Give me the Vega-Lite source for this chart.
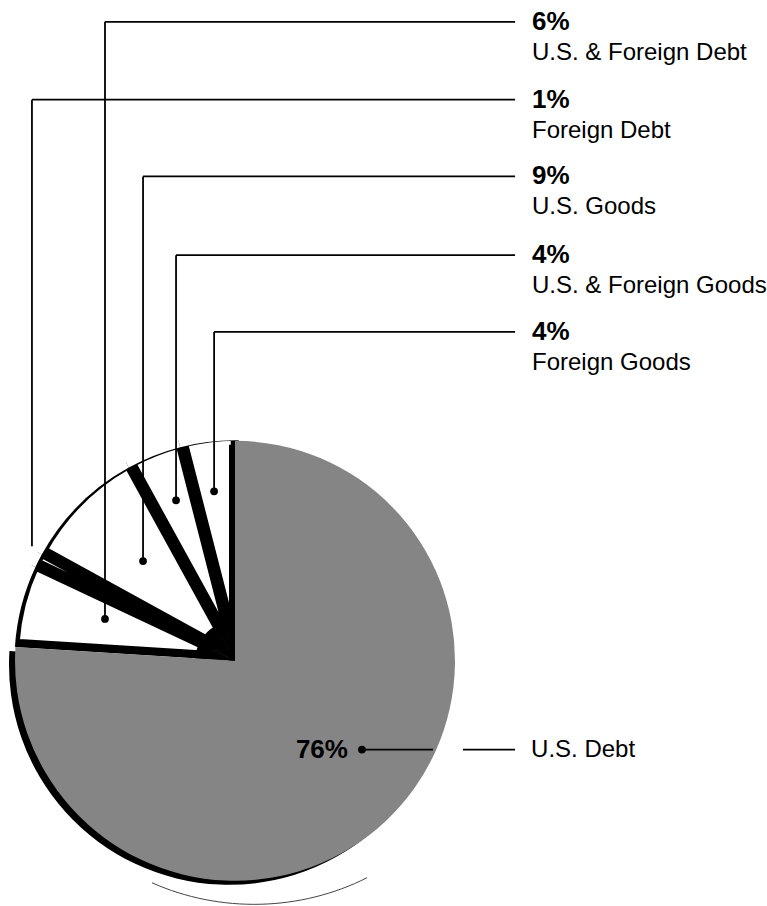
{
  "$schema": "https://vega.github.io/schema/vega-lite/v6.json",
  "width": 767,
  "height": 906,
  "autosize": {"type": "fit", "contains": "padding"},
  "padding": 0,
  "background": "white",
  "config": {"view": {"stroke": null}, "text": {"font": "Liberation Sans"}},
  "datasets": {
    "slices": [
      {"category": "U.S. Debt", "pct": 76, "ord": 1},
      {"category": "U.S. & Foreign Debt", "pct": 6, "ord": 2},
      {"category": "Foreign Debt", "pct": 1, "ord": 3},
      {"category": "U.S. Goods", "pct": 9, "ord": 4},
      {"category": "U.S. & Foreign Goods", "pct": 4, "ord": 5},
      {"category": "Foreign Goods", "pct": 4, "ord": 6}
    ],
    "callouts": [
      {"label": "6%", "name": "U.S. & Foreign Debt", "lead_x": -59.1, "level_y": 291.4, "dot_y": 19.1, "dot": true},
      {"label": "1%", "name": "Foreign Debt", "lead_x": -92.3, "level_y": 255.9, "dot_y": 52.3, "dot": false},
      {"label": "9%", "name": "U.S. Goods", "lead_x": -41.8, "level_y": 220.9, "dot_y": 45.5, "dot": true},
      {"label": "4%", "name": "U.S. & Foreign Goods", "lead_x": -26.8, "level_y": 185.0, "dot_y": 73.2, "dot": true},
      {"label": "4%", "name": "Foreign Goods", "lead_x": -9.5, "level_y": 150.0, "dot_y": 77.3, "dot": true}
    ],
    "usdebt": [
      {"label": "76%", "name": "U.S. Debt", "dot_x": 57.7, "gap_from": 90.0, "gap_to": 103.6, "line_end": 127.3, "level_y": -40.5}
    ]
  },
  "layer": [
    {
      "data": {"name": "slices"},
      "mark": {"type": "arc", "outerRadius": 220},
      "encoding": {
        "x": {"datum": 0, "type": "quantitative", "scale": {"domain": [-106.82, 241.82], "nice": false, "zero": false}, "axis": null},
        "y": {"datum": 0, "type": "quantitative", "scale": {"domain": [-110.45, 301.36], "nice": false, "zero": false}, "axis": null},
        "theta": {"field": "pct", "type": "quantitative", "stack": true},
        "order": {"field": "ord", "type": "quantitative"},
        "fill": {"condition": {"test": "datum.category === 'U.S. Debt'", "value": "transparent"}, "value": "black"}
      }
    },
    {
      "data": {"name": "slices"},
      "mark": {"type": "arc", "outerRadius": 222, "innerRadius": 30, "padAngle": 0.02, "xOffset": 2, "yOffset": -2, "strokeWidth": 8, "strokeJoin": "round"},
      "encoding": {
        "x": {"datum": 0, "type": "quantitative", "scale": {"domain": [-106.82, 241.82], "nice": false, "zero": false}, "axis": null},
        "y": {"datum": 0, "type": "quantitative", "scale": {"domain": [-110.45, 301.36], "nice": false, "zero": false}, "axis": null},
        "theta": {"field": "pct", "type": "quantitative", "stack": true},
        "order": {"field": "ord", "type": "quantitative"},
        "fill": {"condition": {"test": "datum.category === 'U.S. Debt'", "value": "transparent"}, "value": "white"},
        "stroke": {"condition": {"test": "datum.category === 'U.S. Debt'", "value": "transparent"}, "value": "black"}
      }
    },
    {
      "data": {"name": "slices"},
      "mark": {"type": "arc", "innerRadius": 220.5, "outerRadius": 231},
      "encoding": {
        "x": {"datum": 0, "type": "quantitative", "scale": {"domain": [-106.82, 241.82], "nice": false, "zero": false}, "axis": null},
        "y": {"datum": 0, "type": "quantitative", "scale": {"domain": [-110.45, 301.36], "nice": false, "zero": false}, "axis": null},
        "theta": {"field": "pct", "type": "quantitative", "stack": true},
        "order": {"field": "ord", "type": "quantitative"},
        "fill": {"value": "white"}
      }
    },
    {
      "data": {"name": "slices"},
      "transform": [{"filter": "datum.ord === 1"}],
      "mark": {"type": "point", "shape": "M -0.444 0.815 A 1 0.909 0 0 0 0.483 0.793", "filled": false, "size": 215296, "stroke": "#444444", "strokeWidth": 1, "opacity": 1},
      "encoding": {
        "x": {"datum": 9.1, "type": "quantitative", "scale": {"domain": [-106.82, 241.82], "nice": false, "zero": false}, "axis": null},
        "y": {"datum": -15.0, "type": "quantitative", "scale": {"domain": [-110.45, 301.36], "nice": false, "zero": false}, "axis": null}
      }
    },
    {
      "data": {"name": "slices"},
      "mark": {"type": "arc", "outerRadius": 220, "xOffset": -6, "yOffset": 4},
      "encoding": {
        "x": {"datum": 0, "type": "quantitative", "scale": {"domain": [-106.82, 241.82], "nice": false, "zero": false}, "axis": null},
        "y": {"datum": 0, "type": "quantitative", "scale": {"domain": [-110.45, 301.36], "nice": false, "zero": false}, "axis": null},
        "theta": {"field": "pct", "type": "quantitative", "stack": true},
        "order": {"field": "ord", "type": "quantitative"},
        "fill": {"condition": {"test": "datum.category === 'U.S. Debt'", "value": "black"}, "value": "transparent"}
      }
    },
    {
      "data": {"name": "slices"},
      "mark": {"type": "arc", "outerRadius": 220},
      "encoding": {
        "x": {"datum": 0, "type": "quantitative", "scale": {"domain": [-106.82, 241.82], "nice": false, "zero": false}, "axis": null},
        "y": {"datum": 0, "type": "quantitative", "scale": {"domain": [-110.45, 301.36], "nice": false, "zero": false}, "axis": null},
        "theta": {"field": "pct", "type": "quantitative", "stack": true},
        "order": {"field": "ord", "type": "quantitative"},
        "fill": {"condition": {"test": "datum.category === 'U.S. Debt'", "value": "#858585"}, "value": "transparent"}
      }
    },
    {
      "data": {"name": "slices"},
      "mark": {"type": "arc", "outerRadius": 40},
      "encoding": {
        "x": {"datum": 0, "type": "quantitative", "scale": {"domain": [-106.82, 241.82], "nice": false, "zero": false}, "axis": null},
        "y": {"datum": 0, "type": "quantitative", "scale": {"domain": [-110.45, 301.36], "nice": false, "zero": false}, "axis": null},
        "theta": {"field": "pct", "type": "quantitative", "stack": true},
        "order": {"field": "ord", "type": "quantitative"},
        "fill": {"condition": {"test": "datum.category === 'U.S. Debt'", "value": "transparent"}, "value": "black"}
      }
    },
    {
      "data": {"name": "callouts"},
      "mark": {"type": "rule", "color": "black", "strokeWidth": 1.8},
      "encoding": {
        "x": {"field": "lead_x", "type": "quantitative", "scale": {"domain": [-106.82, 241.82], "nice": false, "zero": false}, "axis": null},
        "y": {"field": "dot_y", "type": "quantitative", "scale": {"domain": [-110.45, 301.36], "nice": false, "zero": false}, "axis": null},
        "y2": {"field": "level_y"}
      }
    },
    {
      "data": {"name": "callouts"},
      "mark": {"type": "rule", "color": "black", "strokeWidth": 1.8},
      "encoding": {
        "x": {"field": "lead_x", "type": "quantitative", "scale": {"domain": [-106.82, 241.82], "nice": false, "zero": false}, "axis": null},
        "x2": {"datum": 127.3},
        "y": {"field": "level_y", "type": "quantitative", "scale": {"domain": [-110.45, 301.36], "nice": false, "zero": false}, "axis": null}
      }
    },
    {
      "data": {"name": "callouts"},
      "transform": [{"filter": "datum.dot"}],
      "mark": {"type": "point", "shape": "circle", "filled": true, "size": 60, "color": "black", "opacity": 1},
      "encoding": {
        "x": {"field": "lead_x", "type": "quantitative", "scale": {"domain": [-106.82, 241.82], "nice": false, "zero": false}, "axis": null},
        "y": {"field": "dot_y", "type": "quantitative", "scale": {"domain": [-110.45, 301.36], "nice": false, "zero": false}, "axis": null}
      }
    },
    {
      "data": {"name": "callouts"},
      "mark": {"type": "text", "align": "left", "baseline": "middle", "fontSize": 26, "fontWeight": "bold", "color": "black"},
      "encoding": {
        "x": {"datum": 135, "type": "quantitative", "scale": {"domain": [-106.82, 241.82], "nice": false, "zero": false}, "axis": null},
        "y": {"field": "level_y", "type": "quantitative", "scale": {"domain": [-110.45, 301.36], "nice": false, "zero": false}, "axis": null},
        "text": {"field": "label"}
      }
    },
    {
      "data": {"name": "callouts"},
      "mark": {"type": "text", "align": "left", "baseline": "alphabetic", "dy": 38, "fontSize": 24, "color": "black"},
      "encoding": {
        "x": {"datum": 135, "type": "quantitative", "scale": {"domain": [-106.82, 241.82], "nice": false, "zero": false}, "axis": null},
        "y": {"field": "level_y", "type": "quantitative", "scale": {"domain": [-110.45, 301.36], "nice": false, "zero": false}, "axis": null},
        "text": {"field": "name"}
      }
    },
    {
      "data": {"name": "usdebt"},
      "mark": {"type": "rule", "color": "black", "strokeWidth": 1.8},
      "encoding": {
        "x": {"field": "dot_x", "type": "quantitative", "scale": {"domain": [-106.82, 241.82], "nice": false, "zero": false}, "axis": null},
        "x2": {"field": "gap_from"},
        "y": {"field": "level_y", "type": "quantitative", "scale": {"domain": [-110.45, 301.36], "nice": false, "zero": false}, "axis": null}
      }
    },
    {
      "data": {"name": "usdebt"},
      "mark": {"type": "rule", "color": "black", "strokeWidth": 1.8},
      "encoding": {
        "x": {"field": "gap_to", "type": "quantitative", "scale": {"domain": [-106.82, 241.82], "nice": false, "zero": false}, "axis": null},
        "x2": {"field": "line_end"},
        "y": {"field": "level_y", "type": "quantitative", "scale": {"domain": [-110.45, 301.36], "nice": false, "zero": false}, "axis": null}
      }
    },
    {
      "data": {"name": "usdebt"},
      "mark": {"type": "point", "shape": "circle", "filled": true, "size": 60, "color": "black", "opacity": 1},
      "encoding": {
        "x": {"field": "dot_x", "type": "quantitative", "scale": {"domain": [-106.82, 241.82], "nice": false, "zero": false}, "axis": null},
        "y": {"field": "level_y", "type": "quantitative", "scale": {"domain": [-110.45, 301.36], "nice": false, "zero": false}, "axis": null}
      }
    },
    {
      "data": {"name": "usdebt"},
      "mark": {"type": "text", "align": "right", "baseline": "middle", "dx": -14, "fontSize": 26, "fontWeight": "bold", "color": "black"},
      "encoding": {
        "x": {"field": "dot_x", "type": "quantitative", "scale": {"domain": [-106.82, 241.82], "nice": false, "zero": false}, "axis": null},
        "y": {"field": "level_y", "type": "quantitative", "scale": {"domain": [-110.45, 301.36], "nice": false, "zero": false}, "axis": null},
        "text": {"field": "label"}
      }
    },
    {
      "data": {"name": "usdebt"},
      "mark": {"type": "text", "align": "left", "baseline": "middle", "dx": 16, "fontSize": 24, "color": "black"},
      "encoding": {
        "x": {"field": "line_end", "type": "quantitative", "scale": {"domain": [-106.82, 241.82], "nice": false, "zero": false}, "axis": null},
        "y": {"field": "level_y", "type": "quantitative", "scale": {"domain": [-110.45, 301.36], "nice": false, "zero": false}, "axis": null},
        "text": {"field": "name"}
      }
    }
  ]
}
